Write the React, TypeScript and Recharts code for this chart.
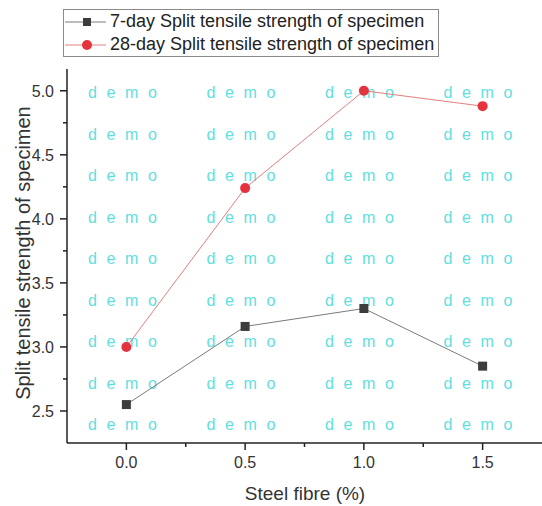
import React from "react";
import {
    LineChart,
    Line,
    XAxis,
    YAxis,
    Legend,
} from "recharts";

// --- Data ---

const STEEL_FIBRE = [0, 0.5, 1.0, 1.5];
const SPLIT_7_DAY = [2.55, 3.16, 3.30, 2.85];
const SPLIT_28_DAY = [3.00, 4.24, 5.00, 4.88];

const X_TICKS = [0, 0.25, 0.5, 0.75, 1.0, 1.25, 1.5];
const Y_TICKS = [2.5, 2.75, 3.0, 3.25, 3.5, 3.75, 4.0, 4.25, 4.5, 4.75, 5.0];

const SERIES_7_NAME = "7-day Split tensile strength of specimen";
const SERIES_28_NAME = "28-day Split tensile strength of specimen";

const data = STEEL_FIBRE.map((x, i) => ({
    x,
    d7: SPLIT_7_DAY[i],
    d28: SPLIT_28_DAY[i],
}));

// --- Constants ---

const WIDTH = 542;
const HEIGHT = 506;
const FONT = "'Liberation Sans', Arial, sans-serif";
const AXIS_COLOR = "#222";
const TEXT_COLOR = "#333";
const GRAY_LINE = "#7a7a7a";
const GRAY_MARK = "#3c3c3c";
const RED_LINE = "#e08080";
const RED_MARK = "#e5333d";

const WM_COLUMNS = [88, 206.5, 325, 443.5];
const WM_ROWS = [92, 133.5, 175, 216.5, 258, 299.5, 341, 382.5, 424];

// --- Ticks ---

function isMajor(v: number)
{
    return Math.abs(v * 2 - Math.round(v * 2)) < 1e-6;
}

function XTick(props: any)
{
    const { x, y, payload } = props;
    const axisY = y - 8;
    const major = isMajor(payload.value);
    return (
        <g>
            <line x1={x} x2={x} y1={axisY} y2={axisY + (major ? 7 : 4)} stroke={AXIS_COLOR} strokeWidth={1.5} />
            {major && (
                <text x={x} y={axisY + 25} textAnchor="middle" fontSize={16} fill={TEXT_COLOR} fontFamily={FONT}>
                    {payload.value.toFixed(1)}
                </text>
            )}
        </g>
    );
}

function YTick(props: any)
{
    const { x, y, payload } = props;
    const axisX = x + 8;
    const major = isMajor(payload.value);
    return (
        <g>
            <line x1={axisX} x2={axisX - (major ? 7 : 4)} y1={y} y2={y} stroke={AXIS_COLOR} strokeWidth={1.5} />
            {major && (
                <text x={axisX - 13} y={y + 6} textAnchor="end" fontSize={16} fill={TEXT_COLOR} fontFamily={FONT}>
                    {payload.value.toFixed(1)}
                </text>
            )}
        </g>
    );
}

// --- Legend ---

function LegendBox()
{
    const rows = [
        { name: SERIES_7_NAME, line: GRAY_LINE, mark: GRAY_MARK, square: true },
        { name: SERIES_28_NAME, line: RED_LINE, mark: RED_MARK, square: false },
    ];
    return (
        <div
            style={{
                border: "1px solid #8a8a8a",
                width: 374,
                height: 46,
                background: "#fff",
                fontFamily: FONT,
                fontSize: 18,
                color: "#222",
                lineHeight: "23px",
            }}
        >
            {rows.map((r) => (
                <div key={r.name} style={{ display: "flex", alignItems: "center", height: 23 }}>
                    <svg width={46} height={14} style={{ flex: "none" }}>
                        <line x1={1} x2={42} y1={7} y2={7} stroke={r.line} strokeWidth={1} />
                        {r.square
                            ? <rect x={19} y={3} width={8} height={8} fill={r.mark} />
                            : <circle cx={23} cy={7} r={5} fill={r.mark} />}
                    </svg>
                    <span style={{ whiteSpace: "nowrap" }}>{r.name}</span>
                </div>
            ))}
        </div>
    );
}

// --- Component ---

export default function App()
{
    return (
        <div style={{ position: "absolute", left: 0, top: 0, width: WIDTH, height: HEIGHT, background: "#fff" }}>
            <svg width={WIDTH} height={HEIGHT} style={{ position: "absolute", left: 0, top: 0 }}>
                {WM_ROWS.map((wy) =>
                    WM_COLUMNS.map((wx) => (
                        <text
                            key={`${wx}-${wy}`}
                            x={wx}
                            y={wy + 6}
                            fontSize={16}
                            fill="#5fe0e0"
                            fontFamily={FONT}
                            textLength={69}
                            lengthAdjust="spacing"
                        >
                            demo
                        </text>
                    ))
                )}
            </svg>
            <div style={{ position: "absolute", left: 0, top: 0 }}>
                <LineChart
                    width={WIDTH}
                    height={HEIGHT}
                    data={data}
                    margin={{ top: 69, right: 0, left: 0, bottom: 0 }}
                >
                    <XAxis
                        dataKey="x"
                        type="number"
                        domain={[-0.25, 1.75]}
                        ticks={X_TICKS}
                        allowDataOverflow
                        interval={0}
                        height={63}
                        tickSize={6}
                        tickMargin={2}
                        tickLine={false}
                        axisLine={{ stroke: AXIS_COLOR, strokeWidth: 1.5 }}
                        tick={<XTick />}
                        label={{
                            content: () => (
                                <text x={305} y={500} textAnchor="middle" fontSize={19} fill={TEXT_COLOR} fontFamily={FONT}>
                                    Steel fibre (%)
                                </text>
                            ),
                        }}
                    />
                    <YAxis
                        type="number"
                        domain={[2.25, 5.17]}
                        ticks={Y_TICKS}
                        allowDataOverflow
                        interval={0}
                        width={67}
                        tickSize={6}
                        tickMargin={2}
                        tickLine={false}
                        axisLine={{ stroke: AXIS_COLOR, strokeWidth: 1.5 }}
                        tick={<YTick />}
                        label={{
                            content: () => (
                                <text
                                    x={0}
                                    y={0}
                                    transform="translate(30 253) rotate(-90)"
                                    textAnchor="middle"
                                    fontSize={20}
                                    fill={TEXT_COLOR}
                                    fontFamily={FONT}
                                >
                                    Split tensile strength of specimen
                                </text>
                            ),
                        }}
                    />
                    <Legend
                        layout="vertical"
                        align="center"
                        verticalAlign="middle"
                        content={<LegendBox />}
                        wrapperStyle={{ position: "absolute", left: 63, top: 9, width: "auto" }}
                    />
                    <Line
                        dataKey="d7"
                        name={SERIES_7_NAME}
                        stroke={GRAY_LINE}
                        strokeWidth={1}
                        isAnimationActive={false}
                        dot={(p: any) => (
                            <rect key={`d7-${p.index}`} x={p.cx - 4.5} y={p.cy - 4.5} width={9} height={9} fill={GRAY_MARK} />
                        )}
                    />
                    <Line
                        dataKey="d28"
                        name={SERIES_28_NAME}
                        stroke={RED_LINE}
                        strokeWidth={1}
                        isAnimationActive={false}
                        dot={{ r: 5, fill: RED_MARK, stroke: "none" }}
                    />
                </LineChart>
            </div>
        </div>
    );
}
